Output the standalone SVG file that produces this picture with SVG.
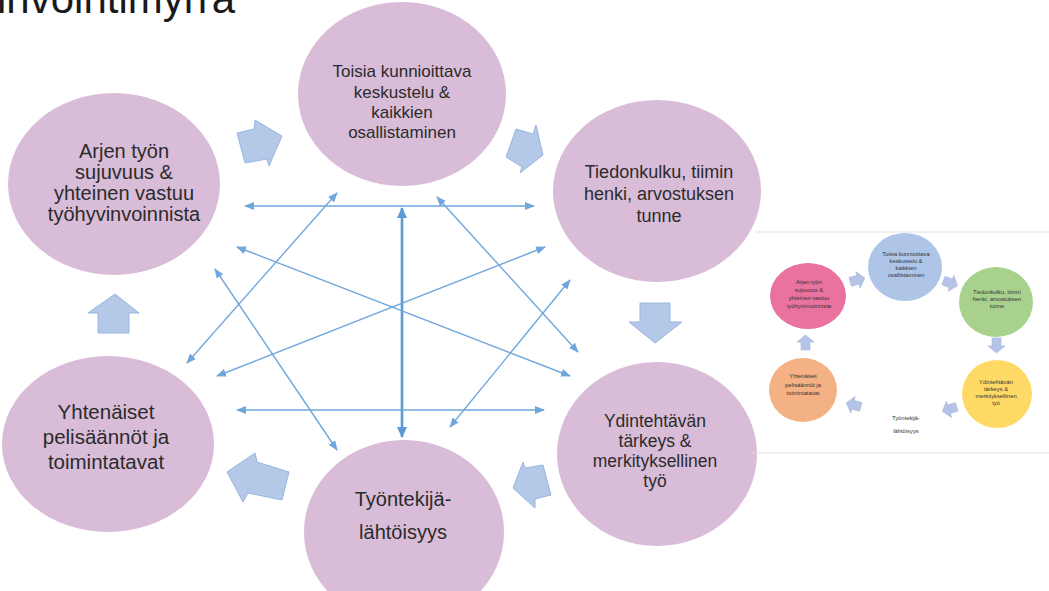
<svg xmlns="http://www.w3.org/2000/svg" width="1049" height="591" viewBox="0 0 1049 591">
<style>
.bubble{fill:#d8bcd8}
.lbl{font-family:"Liberation Sans",Arial,sans-serif;fill:#2b2b2b;text-anchor:middle}
.conn{stroke:#6fa6dc;stroke-width:1.4;fill:none;marker-start:url(#ah);marker-end:url(#ah)}
.conn-thick{stroke:#5b9bd5;stroke-width:2.6;fill:none;marker-start:url(#ah2);marker-end:url(#ah2)}
.block{fill:#b4c8e7;stroke:#9ab6df;stroke-width:1;stroke-linejoin:round}
.sblock{fill:#b4c3e6;stroke:#a6b6df;stroke-width:0.6}
.slbl{font-family:"Liberation Sans",Arial,sans-serif;fill:#333;text-anchor:middle;font-size:5.8px}
.rule{stroke:#e2e2e2;stroke-width:1.2}
</style>
<defs>
<marker id="ah" markerUnits="userSpaceOnUse" markerWidth="10" markerHeight="8" refX="9" refY="4" orient="auto-start-reverse">
<path d="M0,0 L10,4 L0,8 Z" fill="#6fa6dc"/>
</marker>
<marker id="ah2" markerUnits="userSpaceOnUse" markerWidth="11" markerHeight="10" refX="10" refY="5" orient="auto-start-reverse">
<path d="M0,0 L11,5 L0,10 Z" fill="#5b9bd5"/>
</marker>
<path id="sarrow" d="M-7,-4.5 L1,-4.5 L1,-8.5 L8,0 L1,8.5 L1,4.5 L-7,4.5 Z"/>
</defs>
<rect width="1049" height="591" fill="#ffffff"/>

<g id="title">
<text x="-3" y="13" font-family="Liberation Sans,Arial,sans-serif" font-size="42" fill="#1a1a1a">invointimyrra</text>
</g>

<g id="node-toisia">
<ellipse class="bubble" cx="402" cy="94" rx="104" ry="92"/>
<text class="lbl" font-size="17" x="402" y="77">Toisia kunnioittava</text>
<text class="lbl" font-size="17" x="402" y="98">keskustelu &amp;</text>
<text class="lbl" font-size="17" x="402" y="118">kaikkien</text>
<text class="lbl" font-size="17" x="402" y="138">osallistaminen</text>
</g>

<g id="node-arjen">
<ellipse class="bubble" cx="114" cy="184" rx="106" ry="91"/>
<text class="lbl" font-size="20" x="124" y="158">Arjen työn</text>
<text class="lbl" font-size="20" x="124" y="179">sujuvuus &amp;</text>
<text class="lbl" font-size="20" x="124" y="200">yhteinen vastuu</text>
<text class="lbl" font-size="20" x="124" y="221">työhyvinvoinnista</text>
</g>

<g id="node-tiedonkulku">
<ellipse class="bubble" cx="657" cy="191" rx="104" ry="91"/>
<text class="lbl" font-size="18" x="659" y="178">Tiedonkulku, tiimin</text>
<text class="lbl" font-size="18" x="659" y="200">henki, arvostuksen</text>
<text class="lbl" font-size="18" x="659" y="222">tunne</text>
</g>

<g id="node-ydintehtava">
<ellipse class="bubble" cx="657" cy="454" rx="100" ry="92"/>
<text class="lbl" font-size="17.5" x="655" y="427">Ydintehtävän</text>
<text class="lbl" font-size="17.5" x="655" y="447">tärkeys &amp;</text>
<text class="lbl" font-size="17.5" x="655" y="467">merkityksellinen</text>
<text class="lbl" font-size="17.5" x="655" y="487">työ</text>
</g>

<g id="node-tyontekija">
<ellipse class="bubble" cx="404" cy="532" rx="100" ry="92"/>
<text class="lbl" font-size="20" x="403" y="506">Työntekijä-</text>
<text class="lbl" font-size="20" x="403" y="539">lähtöisyys</text>
</g>

<g id="node-yhtenaiset">
<ellipse class="bubble" cx="108" cy="444" rx="106" ry="88"/>
<text class="lbl" font-size="20.5" x="106" y="419">Yhtenäiset</text>
<text class="lbl" font-size="20.5" x="106" y="444">pelisäännöt ja</text>
<text class="lbl" font-size="20.5" x="106" y="469">toimintatavat</text>
</g>

<g id="cycle-arrows">
<polygon class="block" points="237,133 254,129 255,120 282,136 269,166 267,159 245,163"/>
<polygon class="block" points="516,129 533,134 536,125 543,155 520,173 522,167 506,157"/>
<polygon class="block" points="640,303 670,303 670,322 682,322 655,343 629,322 640,322"/>
<polygon class="block" points="543,465 525,468 523,462 513,488 535,508 535,499 551,495"/>
<polygon class="block" points="289,472 282,500 248,493 243,502 227,472 255,453 257,462"/>
<polygon class="block" points="98,333 129,333 129,313 139,313 115,294 88,313 98,313"/>
</g>

<g id="connectors">
<line class="conn" x1="245" y1="206" x2="534" y2="206"/>
<line class="conn-thick" x1="402" y1="208" x2="402" y2="437"/>
<line class="conn" x1="337" y1="193" x2="187" y2="363"/>
<line class="conn" x1="237" y1="247" x2="570" y2="376"/>
<line class="conn" x1="215" y1="269" x2="337" y2="450"/>
<line class="conn" x1="545" y1="247" x2="217" y2="376"/>
<line class="conn" x1="437" y1="197" x2="578" y2="352"/>
<line class="conn" x1="570" y1="280" x2="450" y2="427"/>
<line class="conn" x1="237" y1="410" x2="544" y2="410"/>
</g>

<g id="mini-diagram">
<line class="rule" x1="755" y1="232" x2="1049" y2="232"/>
<line class="rule" x1="752" y1="453" x2="1049" y2="453"/>

<g id="mini-arjen">
<ellipse cx="808" cy="296" rx="38" ry="33" fill="#e9729f"/>
<text class="slbl" x="809" y="284">Arjen työn</text>
<text class="slbl" x="809" y="292">sujuvuus &amp;</text>
<text class="slbl" x="809" y="300">yhteinen vastuu</text>
<text class="slbl" x="809" y="308">työhyvinvoinnista</text>
</g>
<g id="mini-toisia">
<ellipse cx="905" cy="267" rx="37" ry="34" fill="#aec5e7"/>
<text class="slbl" x="906" y="256">Toisia kunnioittava</text>
<text class="slbl" x="906" y="263">keskustelu &amp;</text>
<text class="slbl" x="906" y="270">kaikkien</text>
<text class="slbl" x="906" y="277">osallistaminen</text>
</g>
<g id="mini-tiedonkulku">
<ellipse cx="996" cy="302" rx="37" ry="35" fill="#a9d18e"/>
<text class="slbl" x="997" y="294">Tiedonkulku, tiimin</text>
<text class="slbl" x="997" y="301">henki, arvostuksen</text>
<text class="slbl" x="997" y="308">tunne</text>
</g>
<g id="mini-ydintehtava">
<ellipse cx="997" cy="394" rx="35" ry="34" fill="#ffd966"/>
<text class="slbl" x="996" y="384">Ydintehtävän</text>
<text class="slbl" x="996" y="391">tärkeys &amp;</text>
<text class="slbl" x="996" y="398">merkityksellinen</text>
<text class="slbl" x="996" y="405">työ</text>
</g>
<g id="mini-yhtenaiset">
<ellipse cx="803" cy="390" rx="34" ry="32" fill="#f4b183"/>
<text class="slbl" x="803" y="378">Yhtenäiset</text>
<text class="slbl" x="803" y="387">pelisäännöt ja</text>
<text class="slbl" x="803" y="395">toimintatavat</text>
</g>
<g id="mini-tyontekija">
<text class="slbl" x="906" y="420">Työntekijä-</text>
<text class="slbl" x="906" y="433">lähtöisyys</text>
</g>
<g id="mini-arrows">
<use href="#sarrow" class="sblock" transform="translate(805.5,343) rotate(-90)"/>
<use href="#sarrow" class="sblock" transform="translate(857,280) rotate(-15)"/>
<use href="#sarrow" class="sblock" transform="translate(950,283) rotate(20)"/>
<use href="#sarrow" class="sblock" transform="translate(996.5,345) rotate(90)"/>
<use href="#sarrow" class="sblock" transform="translate(950,409) rotate(162)"/>
<use href="#sarrow" class="sblock" transform="translate(854,405) rotate(195)"/>
</g>
</g>
</svg>
